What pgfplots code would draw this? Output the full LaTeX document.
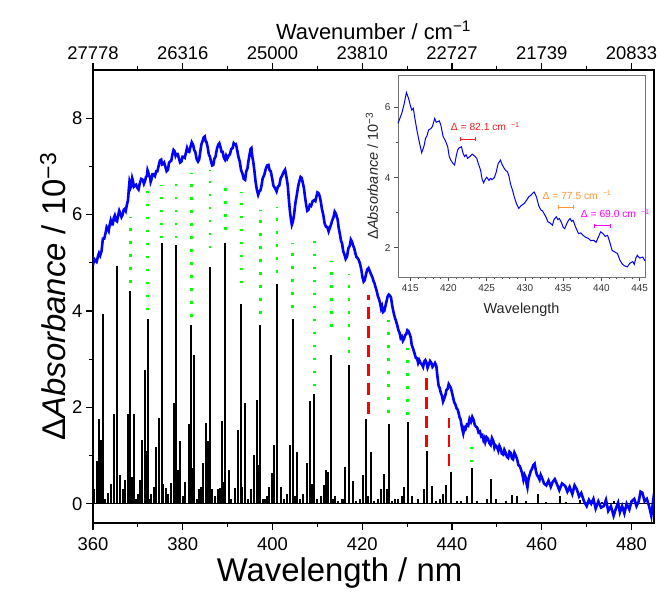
\documentclass[border=0pt]{standalone}
\usepackage{fontspec}
\setmainfont{Liberation Sans}
\usepackage{pgfplots}
\pgfplotsset{compat=1.18}
\usetikzlibrary{calc}

\definecolor{specblue}{RGB}{0,0,255}
\definecolor{dotgreen}{RGB}{0,255,0}
\definecolor{dashred}{RGB}{255,0,0}
\definecolor{lblred}{RGB}{245,30,30}
\definecolor{lblorange}{RGB}{255,150,50}
\definecolor{lblmagenta}{RGB}{255,0,255}

% vertical guide lines between sticks and band maxima
\tikzset{
  gdot/.style={dotgreen, line width=2.6bp, dash pattern=on 2.6bp off 10.4bp},
  rdash/.style={dashred, line width=2.6bp, dash pattern=on 12bp off 7bp},
}

% stick spectrum (wavelength / nm, intensity)
\pgfplotstableread{
x y
360.3 0.30
360.9 0.88
361.4 1.75
361.8 1.33
362.2 3.94
362.7 0.10
363.3 0.23
364.0 0.40
364.6 1.87
365.3 4.94
366.0 0.60
366.6 0.30
367.1 0.50
367.7 1.87
368.3 4.41
368.7 0.55
369.1 1.87
369.6 0.10
370.0 0.20
370.4 0.50
370.9 1.32
371.5 2.77
371.8 1.10
372.2 3.83
372.6 0.10
373.0 0.20
373.5 0.35
374.1 1.17
374.7 1.77
375.3 5.40
375.7 0.40
376.2 0.33
376.7 0.20
377.4 0.44
378.0 2.08
378.5 5.36
378.9 0.70
379.4 1.31
380.0 0.15
380.6 0.45
381.3 1.65
381.9 3.70
382.2 0.75
382.6 3.09
383.2 0.10
383.7 0.30
384.0 0.35
384.5 0.85
385.2 1.67
385.6 1.31
386.1 4.91
386.5 0.30
387.1 0.15
387.8 0.30
388.2 0.33
388.7 1.72
389.1 0.45
389.5 5.42
390.2 0.70
390.8 0.10
391.7 0.33
392.3 1.54
392.9 4.14
393.3 0.35
393.8 2.10
394.5 0.10
395.1 0.30
395.8 1.02
396.5 2.16
396.9 0.80
397.3 3.70
397.8 0.10
398.3 0.10
398.8 0.15
399.3 0.35
399.9 0.64
400.3 1.21
401.0 4.56
401.8 0.35
402.6 0.10
403.2 0.21
403.9 1.22
404.5 3.83
404.9 0.15
405.5 1.08
406.2 0.10
406.8 0.20
407.7 0.85
408.4 2.13
408.7 0.40
409.3 2.27
409.8 0.10
410.8 0.15
411.4 0.38
412.0 0.71
412.4 0.65
413.1 3.09
413.5 0.10
414.0 0.15
414.6 0.05
415.4 0.10
415.7 0.10
416.2 0.76
417.0 2.87
418.0 0.47
418.6 0.05
419.5 0.10
420.2 0.59
420.9 1.75
421.3 0.15
421.9 1.08
422.6 0.05
423.5 0.10
424.2 0.30
424.9 0.62
425.4 0.30
425.9 1.66
426.6 0.05
427.3 0.10
428.0 0.10
428.8 0.15
429.4 0.35
430.1 1.70
431.1 0.15
432.5 0.10
433.7 0.31
434.4 1.10
435.5 0.36
436.5 0.05
437.3 0.10
438.0 0.20
438.7 0.39
439.8 0.65
441.0 0.05
442.0 0.05
443.3 0.15
444.4 0.74
445.5 0.05
447.8 0.10
448.7 0.52
449.8 0.10
452.0 0.05
453.4 0.19
454.5 0.17
456.5 0.05
459.2 0.21
461.0 0.04
464.0 0.15
465.5 0.04
468.6 0.08
470.4 0.05
473.5 0.04
476.0 0.05
481.0 0.04
}\sticks

% measured difference absorbance, full range
\pgfplotstableread{
x y
360.0 4.95
360.25 5.08
360.5 5.05
360.8 5.02
361.1 5.13
361.35 5.20
361.6 5.15
361.9 5.24
362.2 5.50
362.5 5.50
362.8 5.62
363.05 5.74
363.3 5.70
363.5 5.66
363.7 5.78
363.95 5.88
364.2 5.80
364.4 5.80
364.6 5.92
364.85 5.98
365.1 5.88
365.35 5.86
365.6 5.98
365.85 6.08
366.1 6.02
366.35 5.95
366.6 6.00
366.85 6.10
367.1 6.12
367.3 6.08
367.5 6.18
367.8 6.30
368.0 6.55
368.15 6.70
368.3 6.66
368.45 6.58
368.6 6.62
368.75 6.75
368.9 6.70
369.1 6.58
369.3 6.60
369.6 6.62
369.9 6.55
370.15 6.52
370.4 6.64
370.75 6.74
371.1 6.72
371.35 6.64
371.6 6.70
371.8 6.78
372.0 6.80
372.15 6.92
372.3 6.88
372.5 6.80
372.7 6.78
372.85 6.68
373.0 6.72
373.25 6.84
373.5 6.84
373.8 6.80
374.1 6.90
374.35 6.90
374.6 7.00
374.9 7.12
375.2 7.14
375.4 7.04
375.6 7.05
375.85 7.08
376.1 7.00
376.4 6.90
376.7 6.93
376.95 7.08
377.2 7.10
377.45 7.12
377.7 7.25
377.95 7.34
378.2 7.31
378.4 7.22
378.6 7.26
378.85 7.26
379.1 7.18
379.4 7.08
379.7 7.10
379.95 7.20
380.2 7.20
380.45 7.18
380.7 7.28
380.95 7.38
381.2 7.31
381.45 7.30
381.7 7.40
382.0 7.50
382.3 7.45
382.55 7.34
382.8 7.30
383.1 7.15
383.4 7.10
383.65 7.14
383.9 7.30
384.15 7.46
384.4 7.52
384.65 7.60
384.9 7.62
385.1 7.52
385.3 7.50
385.55 7.40
385.8 7.25
386.05 7.20
386.3 7.10
386.55 7.02
386.8 7.03
387.05 7.16
387.3 7.20
387.6 7.36
387.9 7.45
388.15 7.48
388.4 7.40
388.65 7.30
388.9 7.30
389.15 7.18
389.4 7.14
389.65 7.22
389.9 7.16
390.2 7.22
390.5 7.25
390.8 7.36
391.1 7.38
391.35 7.48
391.6 7.45
391.85 7.46
392.1 7.35
392.4 7.20
392.7 7.10
393.0 6.92
393.3 6.85
393.6 6.74
393.9 6.72
394.15 6.90
394.4 6.95
394.65 7.12
394.9 7.25
395.1 7.36
395.3 7.38
395.5 7.20
395.7 7.10
395.95 6.92
396.2 6.70
396.5 6.52
396.8 6.41
397.05 6.48
397.3 6.50
397.55 6.60
397.8 6.75
398.15 6.82
398.5 6.95
398.8 7.02
399.1 7.03
399.35 6.92
399.6 6.90
399.9 6.76
400.2 6.60
400.55 6.55
400.9 6.48
401.2 6.58
401.5 6.60
401.8 6.75
402.1 6.80
402.45 6.88
402.8 6.93
403.1 6.78
403.4 6.60
403.65 6.30
403.9 6.05
404.1 5.90
404.3 5.79
404.55 5.86
404.8 6.00
405.1 6.24
405.4 6.40
405.7 6.58
406.0 6.70
406.25 6.78
406.5 6.76
406.75 6.66
407.0 6.55
407.25 6.36
407.5 6.20
407.75 6.08
408.0 6.10
408.3 6.20
408.6 6.18
408.95 6.28
409.3 6.30
409.55 6.28
409.8 6.38
410.0 6.46
410.2 6.45
410.45 6.40
410.7 6.30
411.0 6.12
411.3 6.00
411.6 5.82
411.9 5.75
412.2 5.74
412.5 5.65
412.75 5.72
413.0 5.78
413.3 5.88
413.6 5.95
413.85 6.06
414.1 6.02
414.3 5.96
414.5 5.90
414.75 5.72
415.0 5.60
415.25 5.46
415.5 5.40
415.75 5.24
416.0 5.18
416.3 5.08
416.6 5.13
416.9 5.30
417.2 5.35
417.45 5.48
417.7 5.44
417.95 5.36
418.2 5.30
418.45 5.20
418.7 5.12
418.95 5.10
419.2 5.06
419.5 4.98
419.8 4.85
420.05 4.70
420.3 4.61
420.55 4.64
420.8 4.75
421.1 4.86
421.4 4.89
421.7 4.82
422.0 4.75
422.25 4.70
422.5 4.62
422.7 4.58
422.9 4.51
423.2 4.42
423.5 4.30
423.75 4.24
424.0 4.15
424.2 4.05
424.4 4.10
424.65 3.98
424.9 4.00
425.15 4.10
425.4 4.20
425.65 4.30
425.9 4.34
426.15 4.32
426.4 4.28
426.65 4.12
426.9 4.00
427.1 3.92
427.3 3.85
427.55 3.78
427.8 3.70
428.05 3.60
428.3 3.55
428.55 3.44
428.8 3.47
429.05 3.38
429.3 3.42
429.55 3.50
429.8 3.52
430.05 3.60
430.3 3.58
430.55 3.52
430.8 3.45
431.0 3.30
431.2 3.25
431.45 3.18
431.7 3.10
431.95 3.02
432.2 3.02
432.45 2.92
432.7 2.98
433.0 2.92
433.3 2.89
433.55 2.84
433.8 2.95
434.05 2.98
434.3 2.93
434.55 2.82
434.8 2.88
435.1 2.96
435.4 2.92
435.65 2.84
435.9 2.87
436.2 2.92
436.5 2.86
436.65 2.72
436.8 2.60
437.0 2.45
437.25 2.40
437.5 2.30
437.75 2.24
438.0 2.12
438.25 2.18
438.5 2.25
438.75 2.36
439.0 2.38
439.25 2.48
439.5 2.44
439.75 2.40
440.0 2.30
440.25 2.20
440.5 2.10
440.75 2.06
441.0 1.98
441.2 1.96
441.4 1.91
441.65 1.80
441.9 1.75
442.2 1.58
442.5 1.46
442.75 1.58
443.0 1.55
443.3 1.64
443.6 1.62
443.9 1.76
444.2 1.70
444.5 1.80
444.8 1.74
445.05 1.64
445.3 1.60
445.6 1.58
445.9 1.48
446.2 1.50
446.5 1.40
446.75 1.42
447.0 1.32
447.2 1.36
447.4 1.28
447.7 1.38
448.0 1.35
448.3 1.26
448.6 1.22
448.9 1.36
449.2 1.30
449.45 1.16
449.7 1.21
450.0 1.18
450.3 1.10
450.55 1.20
450.8 1.15
451.1 1.04
451.4 1.02
451.65 1.12
451.9 1.07
452.2 0.98
452.5 0.95
452.8 1.08
453.1 1.05
453.35 0.94
453.6 0.92
453.9 1.06
454.2 1.00
454.5 0.92
454.8 0.80
455.1 0.78
455.4 0.70
455.65 0.62
455.9 0.50
456.15 0.60
456.4 0.55
456.6 0.42
456.8 0.34
457.05 0.52
457.3 0.60
457.55 0.68
457.8 0.72
458.1 0.80
458.4 0.83
458.65 0.70
458.9 0.60
459.2 0.56
459.5 0.50
459.75 0.60
460.0 0.55
460.5 0.42
461.0 0.38
461.5 0.48
462.0 0.35
462.4 0.45
462.9 0.51
463.4 0.40
463.9 0.28
464.5 0.42
465.2 0.37
465.7 0.25
466.2 0.35
466.8 0.20
467.3 0.38
467.8 0.30
468.3 0.15
468.8 0.22
469.4 0.05
470.0 -0.05
470.5 0.08
471.0 0.00
471.5 0.10
472.0 -0.10
472.6 0.05
473.2 -0.08
473.8 -0.05
474.3 0.08
474.8 -0.15
475.4 -0.05
476.0 -0.25
476.5 -0.10
477.0 0.02
477.4 -0.18
477.9 -0.05
478.4 -0.20
478.9 0.00
479.5 -0.12
480.0 0.05
480.6 0.10
481.1 -0.05
481.6 0.05
482.0 0.25
482.4 0.23
482.9 0.05
483.4 0.10
483.9 -0.05
484.4 -0.25
484.8 0.05
485.0 -0.05
}\absfull

% zoomed region for the inset
\pgfplotstableread{
x y
413.4 5.55
413.9 5.84
414.2 6.10
414.5 6.43
414.8 6.25
415.0 6.07
415.2 5.93
415.4 5.98
415.6 5.70
415.9 5.32
416.2 5.00
416.5 4.71
416.8 4.90
417.0 5.12
417.2 5.20
417.4 5.36
417.7 5.40
417.9 5.46
418.2 5.69
418.4 5.58
418.6 5.60
418.8 5.62
419.0 5.50
419.3 5.17
419.6 5.05
419.9 4.88
420.1 4.60
420.3 4.50
420.6 4.40
420.8 4.36
421.0 4.60
421.2 4.79
421.4 4.85
421.7 4.88
421.9 4.70
422.1 4.60
422.3 4.65
422.5 4.55
422.8 4.60
423.1 4.67
423.4 4.62
423.7 4.55
423.9 4.40
424.2 4.21
424.4 3.95
424.6 3.85
424.8 3.95
425.0 4.01
425.3 3.92
425.5 3.98
425.7 3.94
426.0 4.00
426.2 4.12
426.5 4.40
426.8 4.50
427.0 4.38
427.3 4.26
427.5 4.20
427.7 4.17
427.9 4.05
428.1 3.83
428.4 3.62
428.6 3.45
428.9 3.25
429.2 3.12
429.5 3.20
429.9 3.26
430.2 3.35
430.5 3.45
430.8 3.50
431.0 3.55
431.2 3.59
431.4 3.50
431.5 3.45
431.8 3.20
432.1 3.07
432.3 3.05
432.5 2.97
432.8 2.85
433.0 2.74
433.3 2.70
433.6 2.64
433.8 2.80
434.1 2.88
434.3 2.80
434.5 2.83
434.8 2.70
435.0 2.58
435.2 2.54
435.5 2.70
435.7 2.78
435.9 2.83
436.1 2.75
436.3 2.78
436.6 2.60
437.0 2.40
437.3 2.42
437.6 2.35
437.9 2.30
438.3 2.26
438.6 2.20
439.0 2.21
439.3 2.15
439.6 2.30
439.9 2.45
440.2 2.40
440.5 2.32
440.8 2.35
441.1 2.15
441.4 1.92
441.7 1.88
442.1 1.83
442.4 1.65
442.7 1.54
443.0 1.48
443.4 1.45
443.7 1.55
444.1 1.60
444.3 1.52
444.5 1.70
444.7 1.78
445.0 1.70
445.4 1.73
445.7 1.62
}\absinset

\begin{document}
\begin{tikzpicture}
% main spectrum
\begin{axis}[
  name=main,
  scale only axis, width=561bp, height=453bp,
  xmin=360, xmax=485, ymin=-0.4, ymax=9.0,
  xtick={360,380,...,480}, minor x tick num=1,
  ytick={0,2,...,8}, minor y tick num=1,
  tick pos=left, tick align=outside,
  major tick length=7bp, minor tick length=4bp,
  every tick/.style={black, line width=1.1bp},
  axis line style={line width=1.2bp},
  /pgf/number format/assume math mode=true,
  tick label style={font=\fontsize{18.5}{20}\selectfont},
  xticklabel style={yshift=-4bp},
  label style={font=\fontsize{33}{36}\selectfont},
  xlabel={Wavelength / nm},
  xlabel style={xshift=-34bp, yshift=0bp},
  ylabel={Δ\textit{Absorbance} / 10\textsuperscript{−3}},
]
  \addplot [ycomb, black, line width=2bp] table {\sticks};
  \addplot [black, line width=1.5bp] coordinates {(360,0) (485,0)};
  % green dotted guides
  \addplot [gdot] coordinates {(368.3,4.58) (368.3,5.96)};
  \addplot [gdot] coordinates {(372.2,4.01) (372.2,6.48)};
  \addplot [gdot] coordinates {(375.3,5.51) (375.3,6.62)};
  \addplot [gdot] coordinates {(378.5,5.51) (378.5,6.69)};
  \addplot [gdot] coordinates {(381.9,3.88) (381.9,6.86)};
  \addplot [gdot] coordinates {(386.1,5.30) (386.1,6.93)};
  \addplot [gdot] coordinates {(389.5,5.68) (389.5,6.74)};
  \addplot [gdot] coordinates {(393.1,4.57) (393.1,6.46)};
  \addplot [gdot] coordinates {(397.3,3.94) (397.3,6.10)};
  \addplot [gdot] coordinates {(401.0,4.79) (401.0,6.15)};
  \addplot [gdot] coordinates {(404.5,4.06) (404.5,5.42)};
  \addplot [gdot] coordinates {(409.3,2.44) (409.3,5.65)};
  \addplot [gdot] coordinates {(413.1,3.67) (413.1,5.03)};
  \addplot [gdot] coordinates {(417.0,3.13) (417.0,4.77)};
  \addplot [gdot] coordinates {(425.9,1.89) (425.9,3.82)};
  \addplot [gdot] coordinates {(430.1,1.85) (430.1,3.23)};
  \addplot [gdot] coordinates {(444.4,0.86) (444.4,1.18)};
  % red dashed guides
  \addplot [rdash] coordinates {(421.4,1.87) (421.4,4.34)};
  \addplot [rdash] coordinates {(434.3,1.18) (434.3,2.61)};
  \addplot [rdash] coordinates {(439.3,0.79) (439.3,1.77)};
  \addplot [specblue, line width=2.6bp] table {\absfull};
\end{axis}

% wavenumber scale on top
\begin{axis}[
  scale only axis, width=561bp, height=453bp,
  xmin=360, xmax=485, ymin=0, ymax=1,
  axis x line*=top, axis y line=none,
  xtick={360,380,...,480},
  xticklabels={27778,26316,25000,23810,22727,21739,20833},
  minor x tick num=1,
  tick align=outside,
  major tick length=7bp, minor tick length=4bp,
  every tick/.style={black, line width=1.1bp},
  axis line style={line width=1.2bp},
  tick label style={font=\fontsize{18.5}{20}\selectfont},
  label style={font=\fontsize{22}{24}\selectfont},
  xlabel={Wavenumber / cm\textsuperscript{−1}},
]
\end{axis}

% inset
\begin{axis}[
  at={($(main.north west)+(305bp,-5bp)$)}, anchor=north west,
  scale only axis, width=247bp, height=202bp,
  xmin=413.4, xmax=445.7, ymin=1.16, ymax=6.93,
  xtick={415,420,...,445}, minor x tick num=4,
  ytick={2,4,6}, minor y tick num=1,
  tick pos=left, tick align=outside,
  major tick length=4bp, minor tick length=2.5bp,
  every tick/.style={black!70, line width=0.7bp},
  axis line style={black!55, line width=0.8bp},
  axis background/.style={fill=white},
  clip=false,
  /pgf/number format/assume math mode=true,
  tick label style={font=\fontsize{10}{11}\selectfont, text=black!80},
  label style={font=\fontsize{14.5}{16}\selectfont, text=black!85},
  xlabel={Wavelength},
  ylabel={Δ\textit{Absorbance} / 10\textsuperscript{−3}},
  xlabel style={yshift=-5bp},
]
  \addplot [specblue, line width=1bp] table {\absinset};
  \addplot [lblred, line width=0.9bp, mark=|, mark size=2bp, mark options={solid, line width=0.9bp}] coordinates {(421.6,5.10) (423.5,5.10)};
  \addplot [lblorange, line width=0.9bp, mark=|, mark size=2bp, mark options={solid, line width=0.9bp}] coordinates {(434.4,3.15) (436.4,3.15)};
  \addplot [lblmagenta, line width=0.9bp, mark=|, mark size=2bp, mark options={solid, line width=0.9bp}] coordinates {(439.1,2.62) (441.2,2.62)};
  \node [anchor=west, inner sep=0pt, text=lblred, font=\fontsize{10.3}{11}\selectfont] at (axis cs:420.3,5.46) {Δ = 82.1 cm\hspace{5bp}\textsuperscript{−1}};
  \node [anchor=west, inner sep=0pt, text=lblorange, font=\fontsize{10.3}{11}\selectfont] at (axis cs:432.3,3.50) {Δ = 77.5 cm\hspace{5bp}\textsuperscript{−1}};
  \node [anchor=west, inner sep=0pt, text=lblmagenta, font=\fontsize{10.3}{11}\selectfont] at (axis cs:437.3,2.97) {Δ = 69.0 cm\hspace{5bp}\textsuperscript{−1}};
\end{axis}

\pgfresetboundingbox
\path [use as bounding box] ($(main.south west)+(-93bp,-69bp)$) rectangle ($(main.north east)+(3bp,70bp)$);
\end{tikzpicture}
\end{document}
